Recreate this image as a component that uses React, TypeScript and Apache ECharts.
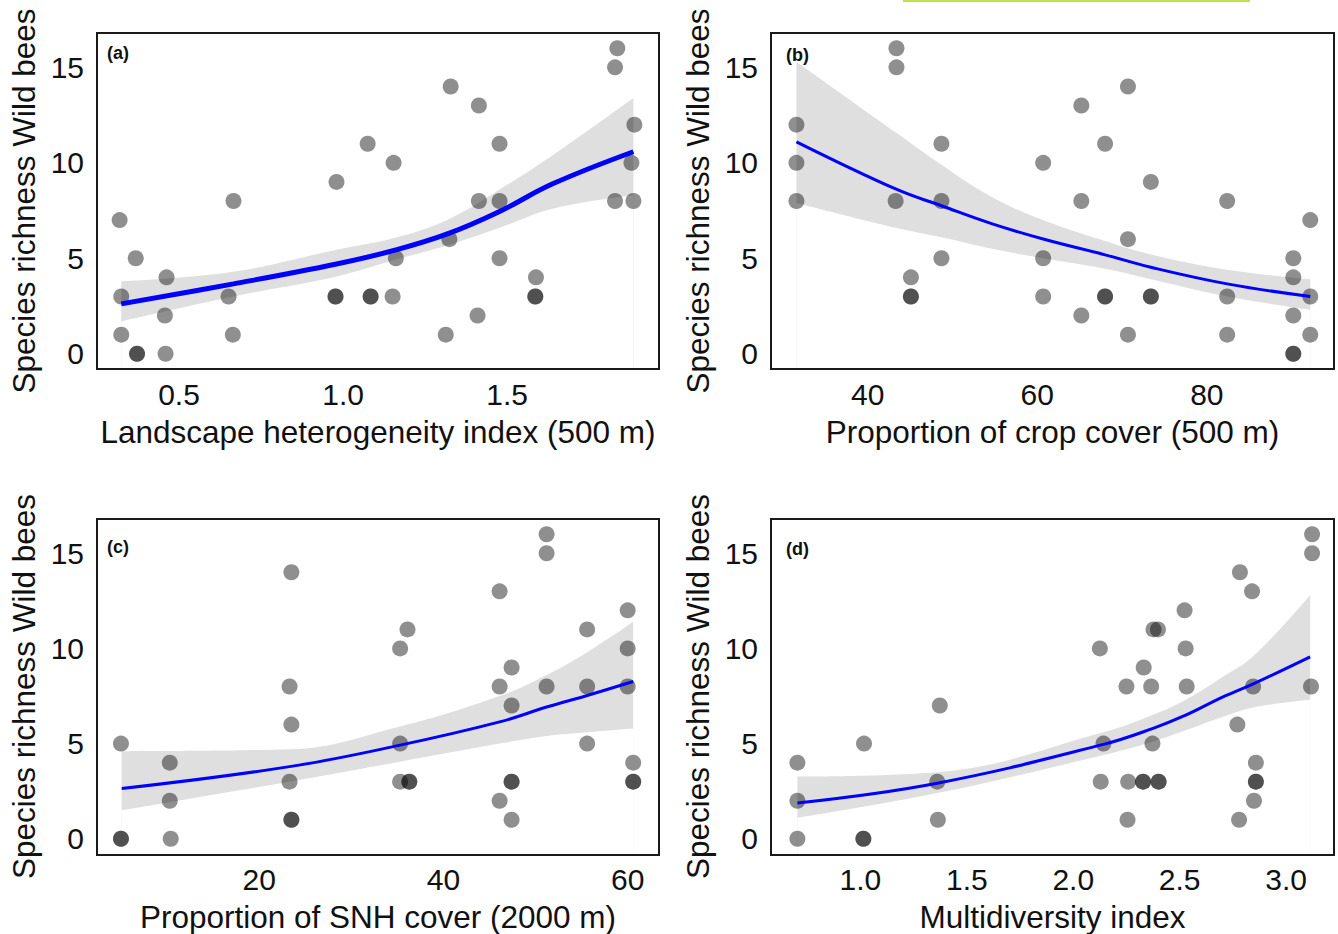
import React, { useEffect, useRef } from "react";
import * as echarts from "echarts";

// ---------- Panel (a): Landscape heterogeneity index ----------
const aPoints: number[][] = [
  [0.319, 7], [0.368, 5], [0.324, 3], [0.324, 1], [0.372, 0], [0.372, 0],
  [0.462, 4], [0.457, 2], [0.459, 0], [0.666, 8], [0.651, 3], [0.664, 1],
  [0.98, 9], [0.977, 3], [0.977, 3], [1.075, 11], [1.084, 3], [1.084, 3],
  [1.154, 10], [1.161, 5], [1.151, 3], [1.328, 14], [1.324, 6], [1.313, 1],
  [1.414, 13], [1.414, 8], [1.41, 2], [1.477, 11], [1.477, 8], [1.477, 5],
  [1.588, 4], [1.586, 3], [1.586, 3], [1.836, 16], [1.829, 15], [1.888, 12],
  [1.879, 10], [1.829, 8], [1.885, 8],
];
const aFitX = [0.324, 0.666, 0.98, 1.164, 1.322, 1.477, 1.639, 1.885];
const aFit = [2.61, 3.66, 4.7, 5.45, 6.3, 7.45, 8.9, 10.58];
const aUpper = [3.8, 4.3, 5.45, 6.1, 7.05, 8.6, 10.4, 13.4];
const aLower = [1.7, 3.0, 4.05, 4.95, 5.7, 6.6, 7.6, 8.3];

// ---------- Panel (b): Proportion of crop cover ----------
const bPoints: number[][] = [
  [43.4, 16], [43.4, 15], [31.6, 12], [31.6, 10], [31.6, 8], [48.7, 11],
  [43.3, 8], [48.7, 8], [48.7, 5], [45.1, 4], [45.1, 3], [45.1, 3],
  [70.7, 14], [65.2, 13], [68.0, 11], [60.7, 10], [73.4, 9], [65.2, 8],
  [82.4, 8], [92.2, 7], [70.7, 6], [60.7, 5], [90.2, 5], [90.2, 4],
  [60.7, 3], [68.0, 3], [68.0, 3], [73.4, 3], [73.4, 3], [82.4, 3],
  [92.2, 3], [65.2, 2], [90.2, 2], [70.7, 1], [82.4, 1], [92.2, 1],
  [90.2, 0], [90.2, 0],
];
const bFitX = [31.6, 43.3, 48.7, 54.7, 60.7, 68.0, 73.4, 82.4, 92.2];
const bFit = [11.1, 8.63, 7.75, 6.8, 6.01, 5.18, 4.53, 3.66, 3.0];
const bUpper = [15.3, 11.6, 9.9, 8.2, 7.0, 5.9, 5.2, 4.4, 3.9];
const bLower = [7.9, 6.6, 6.1, 5.5, 5.0, 4.45, 3.9, 3.0, 2.3];

// ---------- Panel (c): Proportion of SNH cover ----------
const cPoints: number[][] = [
  [51.2, 16], [51.2, 15], [23.5, 14], [46.1, 13], [60.0, 12], [36.1, 11],
  [55.6, 11], [35.3, 10], [60.0, 10], [47.4, 9], [23.3, 8], [46.1, 8],
  [51.2, 8], [55.6, 8], [60.0, 8], [47.4, 7], [23.5, 6], [5.0, 5],
  [35.3, 5], [55.6, 5], [10.3, 4], [60.6, 4], [23.3, 3], [35.3, 3],
  [36.3, 3], [36.3, 3], [47.4, 3], [47.4, 3], [60.6, 3], [60.6, 3],
  [10.3, 2], [46.1, 2], [23.5, 1], [23.5, 1], [47.4, 1], [5.0, 0],
  [5.0, 0], [10.4, 0],
];
const cFitX = [5.08, 23.3, 35.3, 46.1, 51.2, 55.6, 60.6];
const cFit = [2.64, 3.79, 4.92, 6.14, 6.92, 7.53, 8.26];
const cUpper = [4.6, 4.7, 5.9, 7.5, 8.6, 9.8, 11.4];
const cLower = [1.5, 3.0, 4.05, 5.0, 5.4, 5.6, 5.8];

// ---------- Panel (d): Multidiversity index ----------
const dPoints: number[][] = [
  [3.122, 16], [3.122, 15], [2.783, 14], [2.84, 13], [2.523, 12], [2.377, 11],
  [2.398, 11], [2.125, 10], [2.528, 10], [2.331, 9], [2.25, 8], [2.366, 8],
  [2.533, 8], [2.845, 8], [3.117, 8], [1.373, 7], [2.771, 6], [1.017, 5],
  [2.142, 5], [2.372, 5], [0.704, 4], [2.858, 4], [1.361, 3], [2.129, 3],
  [2.258, 3], [2.328, 3], [2.328, 3], [2.401, 3], [2.401, 3], [2.858, 3],
  [2.858, 3], [0.704, 2], [2.849, 2], [1.364, 1], [2.255, 1], [2.779, 1],
  [0.704, 0], [1.014, 0], [1.014, 0],
];
const dFitX = [0.704, 1.361, 2.142, 2.372, 2.528, 2.701, 2.846, 3.113];
const dFit = [1.88, 2.92, 4.96, 5.79, 6.49, 7.44, 8.14, 9.56];
const dUpper = [3.27, 3.5, 5.6, 6.5, 7.3, 8.5, 9.6, 12.8];
const dLower = [1.1, 2.4, 4.4, 5.1, 5.7, 6.4, 6.9, 7.3];

// ---------- Axes ----------
const yTicks = [0, 5, 10, 15];
const yTitle = "Species richness Wild bees";
const panelLabels = ["(a)", "(b)", "(c)", "(d)"];
const xTitles = [
  "Landscape heterogeneity index (500 m)",
  "Proportion of crop cover (500 m)",
  "Proportion of SNH cover (2000 m)",
  "Multidiversity index",
];
const xTicks = [
  [0.5, 1.0, 1.5],
  [40, 60, 80],
  [20, 40, 60],
  [1.0, 1.5, 2.0, 2.5, 3.0],
];
const xRanges = [
  [0.25, 1.963],
  [28.6, 95.0],
  [2.4, 63.4],
  [0.58, 3.225],
];
const xDecimals = [1, 0, 0, 1];

const FONT = "'Liberation Sans', Arial, Helvetica, sans-serif";
const TEXT = "#111111";

export default function App() {
  const ref = useRef<HTMLDivElement>(null);

  useEffect(() => {
    if (!ref.current) return;
    const chart = echarts.init(ref.current, null, { renderer: "svg" });

    const boxes = [
      { left: 97, top: 33, width: 562, height: 336 },
      { left: 771, top: 33, width: 563, height: 336 },
      { left: 97, top: 519, width: 562, height: 336 },
      { left: 771, top: 519, width: 563, height: 336 },
    ];
    const grids = boxes.map((g) => ({ ...g, show: false }));

    const xAxes = xTitles.map((t, i) => ({
      gridIndex: i,
      type: "value",
      min: xRanges[i][0],
      max: xRanges[i][1],
      name: t,
      nameLocation: "middle",
      nameGap: 47,
      nameTextStyle: { fontSize: 31.5, fontFamily: FONT, color: TEXT },
      axisLine: { show: false },
      axisTick: { show: false },
      splitLine: { show: false },
      axisLabel: {
        customValues: xTicks[i],
        fontSize: 30,
        fontFamily: FONT,
        color: TEXT,
        margin: 10,
        formatter: (v: number) => v.toFixed(xDecimals[i]),
      },
    }));

    const yAxes = [0, 1, 2, 3].map((i) => ({
      gridIndex: i,
      type: "value",
      min: -0.8,
      max: 16.8,
      name: yTitle,
      nameLocation: "middle",
      nameGap: 57,
      nameRotate: 90,
      nameTextStyle: { fontSize: 31.5, fontFamily: FONT, color: TEXT },
      axisLine: { show: false },
      axisTick: { show: false },
      splitLine: { show: false },
      axisLabel: {
        customValues: yTicks,
        fontSize: 30,
        fontFamily: FONT,
        color: TEXT,
        margin: 13,
      },
    }));

    const panels = [
      { pts: aPoints, fx: aFitX, fy: aFit, up: aUpper, lo: aLower, w: 5 },
      { pts: bPoints, fx: bFitX, fy: bFit, up: bUpper, lo: bLower, w: 3 },
      { pts: cPoints, fx: cFitX, fy: cFit, up: cUpper, lo: cLower, w: 3 },
      { pts: dPoints, fx: dFitX, fy: dFit, up: dUpper, lo: dLower, w: 3 },
    ];

    const series: any[] = [];
    panels.forEach((p, i) => {
      // confidence band: grey area under the upper bound ...
      series.push({
        type: "line",
        xAxisIndex: i,
        yAxisIndex: i,
        z: 1,
        silent: true,
        smooth: 0.4,
        showSymbol: false,
        data: p.fx.map((x, k) => [x, p.up[k]]),
        lineStyle: { width: 0, opacity: 0 },
        areaStyle: { color: "#dfdfdf", opacity: 1, origin: "start" },
      });
      // ... cut away below the lower bound
      series.push({
        type: "line",
        xAxisIndex: i,
        yAxisIndex: i,
        z: 2,
        silent: true,
        smooth: 0.4,
        showSymbol: false,
        data: p.fx.map((x, k) => [x, p.lo[k]]),
        lineStyle: { width: 0, opacity: 0 },
        areaStyle: { color: "#ffffff", opacity: 1, origin: "start" },
      });
      series.push({
        type: "scatter",
        xAxisIndex: i,
        yAxisIndex: i,
        z: 3,
        symbol: "circle",
        symbolSize: 16,
        data: p.pts,
        itemStyle: { color: "rgba(0,0,0,0.55)" },
      });
      series.push({
        type: "line",
        xAxisIndex: i,
        yAxisIndex: i,
        z: 4,
        smooth: 0.4,
        showSymbol: false,
        data: p.fx.map((x, k) => [x, p.fy[k]]),
        lineStyle: { color: "#0000ff", width: p.w },
      });
    });

    const labelPos = [
      [107, 53],
      [786, 55],
      [107, 547],
      [786, 549],
    ];
    const graphic: any[] = panelLabels.map((t, i) => ({
      type: "text",
      x: labelPos[i][0],
      y: labelPos[i][1],
      z: 100,
      style: {
        text: t,
        fontSize: 18,
        fontWeight: "bold",
        fontFamily: FONT,
        fill: "#111",
        verticalAlign: "middle",
      },
    }));
    boxes.forEach((b) => {
      graphic.push({
        type: "rect",
        z: 100,
        silent: true,
        shape: { x: b.left, y: b.top, width: b.width, height: b.height },
        style: { fill: "none", stroke: "#1a1a1a", lineWidth: 2 },
      });
    });
    graphic.push({
      type: "rect",
      shape: { x: 903, y: 0, width: 347, height: 2 },
      style: { fill: "#bde04c" },
    });

    chart.setOption({
      animation: false,
      backgroundColor: "#ffffff",
      grid: grids,
      xAxis: xAxes,
      yAxis: yAxes,
      series,
      graphic,
    });

    return () => chart.dispose();
  }, []);

  return (
    <div
      ref={ref}
      style={{ position: "absolute", left: 0, top: 0, width: 1338, height: 934 }}
    />
  );
}
